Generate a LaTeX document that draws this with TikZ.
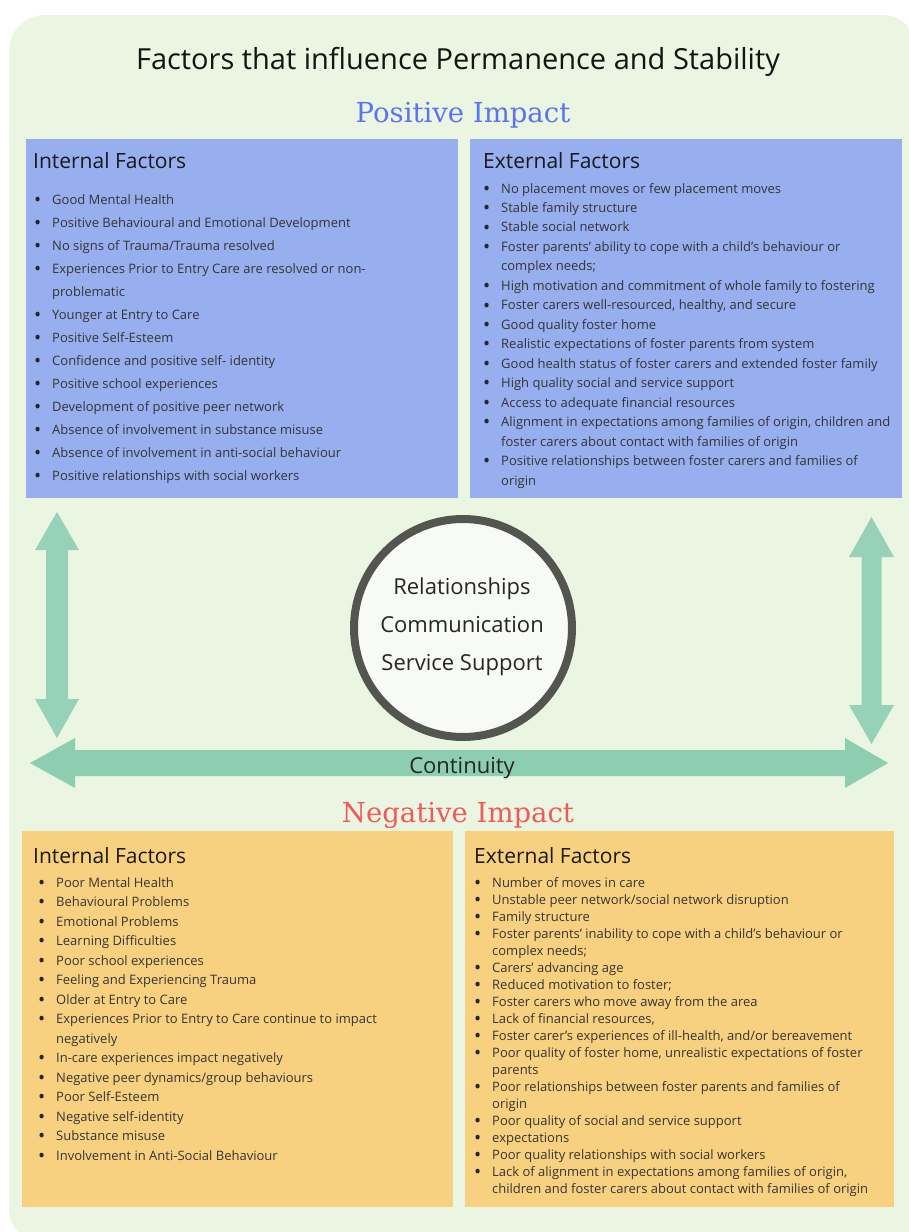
\documentclass[tikz,border=0pt]{standalone}
\usepackage{fontspec}
\setmainfont{Open Sans}
\newfontfamily\slab{DejaVu Serif}
\definecolor{bgc}{HTML}{EAF6E1}
\definecolor{bluebox}{HTML}{97AEEF}
\definecolor{orangebox}{HTML}{F7D17F}
\definecolor{arrv}{HTML}{97D2B8}
\definecolor{arrh}{HTML}{8DCDB0}
\definecolor{ringc}{HTML}{545450}
\definecolor{hubfill}{HTML}{F8FAF5}
\definecolor{posc}{HTML}{5B73F2}
\definecolor{negc}{HTML}{F2595B}
\definecolor{itemc}{HTML}{353535}
\newlength\bind
\newcommand{\bigdot}{\hbox to 0pt{\hss\raisebox{-2.2pt}{\color{black!85}\fontsize{19}{19}\selectfont\textbullet}\hss}}
\newcommand{\bitem}[1]{\par\hangindent=\bind\hangafter=1\noindent\hbox to \bind{\kern2.5pt\bigdot\hss}#1}
\newcommand{\listbox}[3]{\vtop{\hsize=430pt\parindent=0pt\parskip=0pt\baselineskip=#1\bind=#2\relax #3\par}}
\tikzset{
  listtext/.style={inner sep=0pt, anchor=base west, text=itemc, font=\fontsize{13}{15}\selectfont},
  headtext/.style={inner sep=0pt, anchor=base west, text=black!90, font=\fontsize{21}{24}\selectfont},
  hubtext/.style={inner sep=0pt, anchor=base, text=black!85, font=\fontsize{22}{26}\selectfont},
  impact/.style={inner sep=0pt, anchor=base, font=\slab\fontsize{27.5}{30}\selectfont},
  arrowv/.style={fill=arrv},
  arrowh/.style={fill=arrh}
}
\begin{document}
\begin{tikzpicture}[x=1pt,y=-1pt]
\useasboundingbox (0,0) rectangle (909,1232);
\begin{scope}
\clip (0,0) rectangle (909,1232);
\fill[bgc, rounded corners=36pt] (9,15) rectangle (918,1244);
\end{scope}
% title
\node[inner sep=0pt, anchor=base, font=\fontsize{29}{32}\selectfont, text=black!92] (title) at (458,69) {Factors that influence Permanence and Stability};
\node[impact, text=posc] (pos) at (463,122) {Positive Impact};
% positive boxes
\fill[bluebox] (26,139) rectangle (458,498);
\fill[bluebox] (470,139) rectangle (902,498);
\node[headtext] (pih) at (33,168) {Internal Factors};
\node[headtext] (peh) at (483,168) {External Factors};
\node[listtext] (pil) at (35,204) {\listbox{23pt}{17pt}{%
\bitem{Good Mental Health}
\bitem{Positive Behavioural and Emotional Development}
\bitem{No signs of Trauma/Trauma resolved}
\bitem{Experiences Prior to Entry Care are resolved or non-\newline problematic}
\bitem{Younger at Entry to Care}
\bitem{Positive Self-Esteem}
\bitem{Confidence and positive self- identity}
\bitem{Positive school experiences}
\bitem{Development of positive peer network}
\bitem{Absence of involvement in substance misuse}
\bitem{Absence of involvement in anti-social behaviour}
\bitem{Positive relationships with social workers}}};
\node[listtext] (pel) at (484,193) {\listbox{19.47pt}{17pt}{%
\bitem{No placement moves or few placement moves}
\bitem{Stable family structure}
\bitem{Stable social network}
\bitem{Foster parents' ability to cope with a child's behaviour or\newline complex needs;}
\bitem{High motivation and commitment of whole family to fostering}
\bitem{Foster carers well-resourced, healthy, and secure}
\bitem{Good quality foster home}
\bitem{Realistic expectations of foster parents from system}
\bitem{Good health status of foster carers and extended foster family}
\bitem{High quality social and service support}
\bitem{Access to adequate financial resources}
\bitem{Alignment in expectations among families of origin, children and\newline foster carers about contact with families of origin}
\bitem{Positive relationships between foster carers and families of\newline origin}}};
% arrows
\fill[arrowv] (57,512) -- (79,550) -- (68,550) -- (68,699) -- (79,699) -- (57,738) -- (35,699) -- (46,699) -- (46,550) -- (35,550) -- cycle;
\fill[arrowv] (871.5,517) -- (894,557) -- (881.5,557) -- (881.5,705) -- (894,705) -- (871.5,744) -- (849,705) -- (861.5,705) -- (861.5,557) -- (849,557) -- cycle;
\fill[arrowh] (30,763) -- (75,738) -- (75,750) -- (845,750) -- (845,738) -- (888,763) -- (845,788) -- (845,776) -- (75,776) -- (75,788) -- cycle;
\node[hubtext] (cont) at (462,773) {Continuity};
% hub
\node[circle, draw=ringc, line width=8pt, fill=hubfill, minimum size=218pt, inner sep=0pt] (hub) at (463,628) {};
\node[hubtext] (rel) at (462,594) {Relationships};
\node[hubtext] (com) at (462,632) {Communication};
\node[hubtext] (ser) at (462,670) {Service Support};
% negative
\node[impact, text=negc] (neg) at (458,822) {Negative Impact};
\fill[orangebox] (22,831) rectangle (453,1207);
\fill[orangebox] (465,831) rectangle (894,1207);
\node[headtext] (nih) at (33,863) {Internal Factors};
\node[headtext] (neh) at (474,863) {External Factors};
\node[listtext] (nil) at (39,887) {\listbox{19.5pt}{17pt}{%
\bitem{Poor Mental Health}
\bitem{Behavioural Problems}
\bitem{Emotional Problems}
\bitem{Learning Difficulties}
\bitem{Poor school experiences}
\bitem{Feeling and Experiencing Trauma}
\bitem{Older at Entry to Care}
\bitem{Experiences Prior to Entry to Care continue to impact\newline negatively}
\bitem{In-care experiences impact negatively}
\bitem{Negative peer dynamics/group behaviours}
\bitem{Poor Self-Esteem}
\bitem{Negative self-identity}
\bitem{Substance misuse}
\bitem{Involvement in Anti-Social Behaviour}}};
\node[listtext] (nel) at (475,887) {\listbox{17pt}{17pt}{%
\bitem{Number of moves in care}
\bitem{Unstable peer network/social network disruption}
\bitem{Family structure}
\bitem{Foster parents' inability to cope with a child's behaviour or\newline complex needs;}
\bitem{Carers' advancing age}
\bitem{Reduced motivation to foster;}
\bitem{Foster carers who move away from the area}
\bitem{Lack of financial resources,}
\bitem{Foster carer's experiences of ill-health, and/or bereavement}
\bitem{Poor quality of foster home, unrealistic expectations of foster\newline parents}
\bitem{Poor relationships between foster parents and families of\newline origin}
\bitem{Poor quality of social and service support}
\bitem{expectations}
\bitem{Poor quality relationships with social workers}
\bitem{Lack of alignment in expectations among families of origin,\newline children and foster carers about contact with families of origin}}};
\end{tikzpicture}
\end{document}
